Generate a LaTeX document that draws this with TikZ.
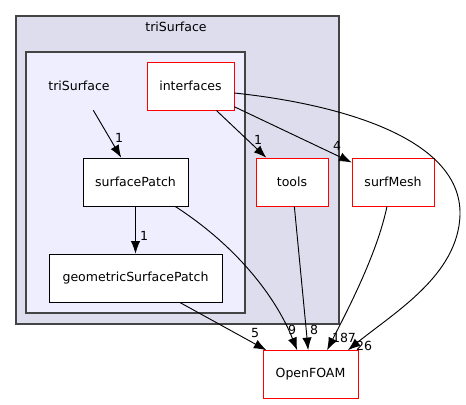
\documentclass[tikz,border=0pt]{standalone}
\usepackage{fontspec}
\setmainfont{DejaVu Sans}
\usetikzlibrary{arrows.meta, positioning}

\definecolor{outerfill}{HTML}{DDDDEE}
\definecolor{innerfill}{HTML}{EEEEFF}
\definecolor{clusterline}{HTML}{444444}

\begin{document}
\begin{tikzpicture}[
  x=0.75pt, y=-0.75pt,
  dir/.style={draw=black, fill=white, minimum height=36pt, minimum width=#1, inner sep=0pt, font=\fontsize{9.4}{11}\selectfont},
  reddir/.style={dir=#1, draw=red},
  plain/.style={minimum height=36pt, minimum width=54pt, inner sep=0pt, font=\fontsize{9.4}{11}\selectfont},
  lbl/.style={inner sep=0pt, font=\fontsize{9.4}{11}\selectfont},
  cluster/.style={draw=clusterline, line width=0.9pt},
  arr/.style={-{Latex[length=9.5pt, width=7pt]}, line width=0.7pt}
]
\useasboundingbox (0,0) rectangle (466,404);
\draw[cluster, fill=outerfill] (16,16) rectangle (339,324);
\draw[cluster, fill=innerfill] (26,52) rectangle (245,313);
\node[lbl] (outerlabel) at (176,27) {triSurface};
\node[plain] (trisurface) at (79,86) {triSurface};
\node[reddir=65.25pt] (interfaces) at (190.5,86) {interfaces};
\node[dir=78.75pt] (patch) at (135.5,182) {surfacePatch};
\node[dir=129.75pt] (geompatch) at (135.5,278) {geometricSurfacePatch};
\node[reddir=54pt] (tools) at (292,182) {tools};
\node[reddir=61.5pt] (surfmesh) at (393,182) {surfMesh};
\node[reddir=71.25pt] (openfoam) at (310.5,374.5) {OpenFOAM};
\draw[arr] (trisurface) -- (patch);
\draw[arr] (patch) -- (geompatch);
\draw[arr] (interfaces) -- (tools);
\draw[arr] (interfaces) -- (surfmesh);
\draw[arr] ([yshift=-5.25pt]interfaces.east) .. controls (330,103) and (462,135) .. (460,215)
  .. controls (458,275) and (395,312) .. ([xshift=28pt]openfoam.north);
\draw[arr] ([xshift=29.6pt]patch.south) .. controls (235,245) and (275,295) .. ([xshift=-10pt]openfoam.north);
\draw[arr] (geompatch) -- (openfoam);
\draw[arr] (tools) -- (openfoam);
\draw[arr] ([xshift=-4.5pt]surfmesh.south) .. controls (377,255) and (345,315) .. ([xshift=12.4pt]openfoam.north);
\node[lbl] (l1) at (119,138) {1};
\node[lbl] (l2) at (144,236) {1};
\node[lbl] (l3) at (258,140) {1};
\node[lbl] (l4) at (337,146) {4};
\node[lbl] (l5) at (255,333) {5};
\node[lbl] (l6) at (292,330) {9};
\node[lbl] (l7) at (314,330) {8};
\node[lbl] (l8) at (344,338) {187};
\node[lbl] (l9) at (364,346) {26};
\end{tikzpicture}
\end{document}
